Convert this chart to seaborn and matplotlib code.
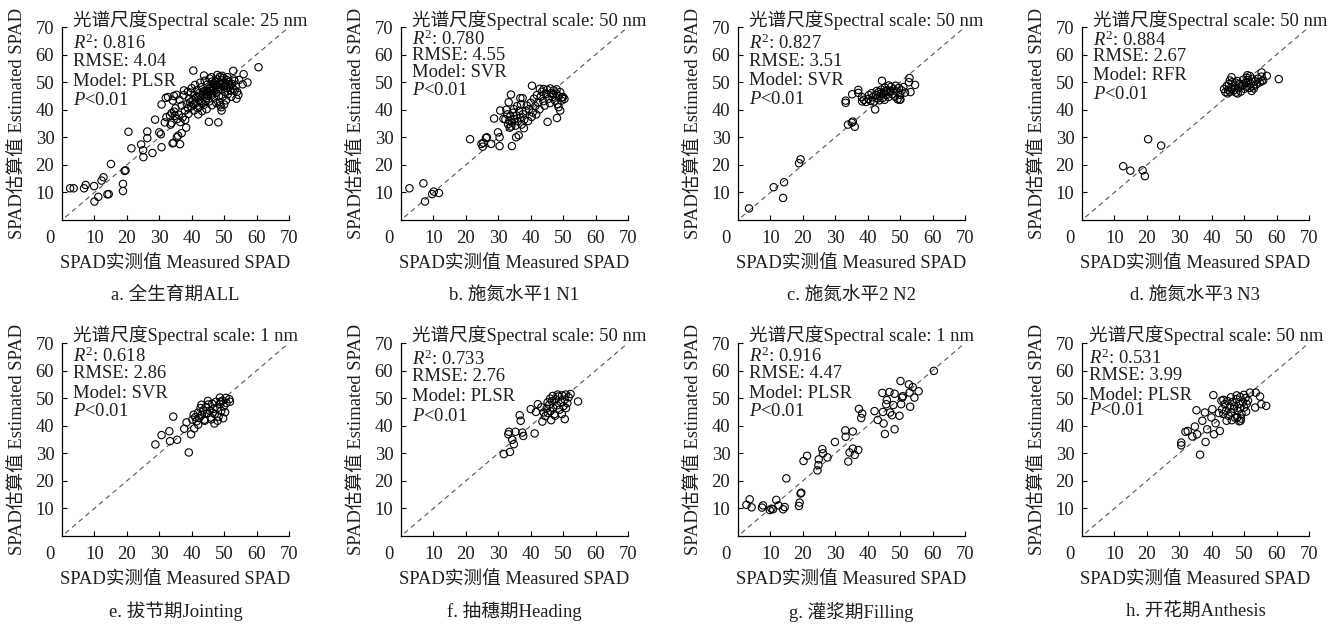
import matplotlib
matplotlib.use("Agg")
import matplotlib.pyplot as plt
import pandas as pd
import seaborn as sns

# (measured, estimated) pairs
pts_all = [
    (2.5, 11.5), (3.6, 11.5), (6.8, 11.5), (7.3, 12.7), (9.9, 12.3), (10, 6.7), (11.2, 8.4), (12.2, 14.3),
    (12.8, 15.5), (14, 9.3), (14.4, 9.4), (15.1, 20.3), (18.8, 13.1), (18.8, 10.5), (19.3, 17.8), (19.6, 18),
    (20.5, 32), (21.4, 26), (24.4, 27.4), (25, 25.3), (25.1, 22.8), (26.3, 32.1), (26.3, 29.7), (27.9, 24.3),
    (28.7, 36.4), (30, 31.8), (30.5, 31.1), (30.7, 41.9), (30.7, 26.4), (31.7, 35.4), (32.2, 37.3), (32, 44.3),
    (33.3, 37.9), (33.5, 34.6), (33.8, 35.2), (34.1, 27.8), (34.4, 28), (35.4, 30), (35.8, 30.6), (36.4, 27.5),
    (36.9, 31.5), (38.3, 33.5), (40.5, 54.2), (45.3, 35.6), (48.2, 35.4), (52.8, 54.1), (56, 52.9), (57.2, 49.9),
    (60.6, 55.4), (54.4, 45.4), (53.3, 47), (55.7, 49.2),
    (32.7, 44.6), (35.3, 45.4), (37.6, 47), (39.8, 46.2), (37.5, 45.3), (34.2, 43.3), (34.6, 39.3), (36.9, 41.5),
    (37.9, 39.7), (49.2, 39.7), (49.1, 40.9), (48.7, 42.7), (40.7, 39.7), (42.3, 41), (46.1, 51.8), (48.7, 52),
    (50.8, 50.8),
    (38.5, 42.1), (39.2, 44.0), (39.8, 41.2), (40.3, 43.5), (40.9, 45.2), (41.2, 42.3), (41.6, 47.1), (42.0, 44.4),
    (42.3, 46.0), (42.8, 43.1), (43.1, 48.2), (43.4, 45.5), (43.8, 41.8), (44.2, 47.0), (44.5, 44.2), (44.8, 49.1),
    (45.1, 46.3), (45.4, 43.0), (45.7, 48.0), (46.0, 45.1), (46.3, 50.2), (46.6, 47.4), (46.9, 44.3), (47.2, 49.0),
    (47.5, 46.1), (47.8, 51.0), (48.1, 48.2), (48.4, 45.0), (48.7, 49.8), (49.0, 47.3), (49.3, 50.6), (49.6, 44.8),
    (49.9, 48.5), (50.2, 46.5), (50.5, 49.6), (50.8, 47.8), (51.1, 45.6), (51.4, 50.1), (51.7, 48.3), (52.0, 46.9),
    (52.4, 49.4), (52.8, 47.6), (53.2, 50.4), (53.6, 48.6), (54.0, 46.5),
    (44.0, 45.6), (44.6, 46.8), (45.3, 47.6), (45.9, 46.8), (46.4, 48.5), (47.0, 47.9), (47.6, 48.9), (48.3, 47.0),
    (48.9, 48.9), (46.2, 45.9), (45.0, 45.0), (43.6, 46.6), (42.6, 45.2), (41.4, 44.6), (40.5, 41.9), (39.5, 42.7),
    (38.9, 40.5), (47.3, 50.3), (46.8, 49.5), (49.6, 49.2), (50.6, 48.9), (51.9, 49.0), (44.3, 43.2), (43.0, 42.5),
    (41.8, 40.6), (39.0, 38.5), (36.0, 38.2), (35.5, 36.6), (34.8, 37.8), (36.5, 35.5), (37.2, 37.2), (38.0, 36.3),
    (35.0, 40.5), (33.8, 38.8), (36.2, 43.6), (34.5, 45.0), (38.8, 46.5), (40.0, 47.8), (41.0, 49.0), (42.6, 49.8),
    (44.0, 50.5), (45.5, 51.3), (49.8, 51.5), (51.0, 51.8), (53.0, 51.0), (54.6, 50.8), (52.2, 44.7), (50.6, 43.4),
    (47.6, 42.4), (46.2, 41.6), (44.6, 40.2), (43.2, 39.5), (42.0, 38.3), (48.8, 41.6), (50.0, 41.9), (53.8, 44.0),
    (49.4, 52.3), (47.9, 52.6), (43.8, 52.4),
]

pts_n1 = [
    (2.6, 11.5), (6.9, 13.3), (7.4, 6.7), (9.6, 9.4), (10.1, 10.3), (11.7, 9.8), (21.3, 29.3), (24.8, 27.6),
    (25.2, 26.6), (25.4, 28), (26.2, 29.8), (26.5, 30), (27.8, 27.6), (28.7, 36.8), (29.9, 31.8), (30.4, 30),
    (30.4, 26.8), (30.6, 39.7), (31.6, 36.7), (33.2, 42.7), (33.9, 45.5), (34.2, 26.8), (36.8, 44.2), (37.5, 44.2),
    (35.5, 30), (36.3, 30.7), (37.9, 33.3), (40.4, 48.7), (45.2, 35.6), (46, 47.7), (48.1, 37), (49.1, 39.7),
    (48.6, 40.9), (50.4, 43.9), (49.6, 44.5),
    (32.2, 36.5), (32.8, 38.3), (33.0, 34.8), (33.4, 36.0), (33.7, 37.6), (34.0, 33.9), (34.3, 35.3), (34.6, 38.9),
    (35.0, 36.6), (35.3, 34.2), (35.6, 37.9), (36.0, 35.8), (36.4, 39.5), (36.8, 37.1), (37.2, 34.6), (37.6, 38.4),
    (38.0, 36.4), (33.5, 33.5), (34.8, 40.2), (35.8, 41.3), (32.5, 40.0), (37.0, 42.0), (38.5, 39.6), (39.2, 35.9),
    (39.5, 40.2), (40.0, 42.5), (40.6, 39.0), (41.0, 44.0), (41.4, 41.3), (41.9, 45.3), (42.3, 42.6), (42.7, 40.1),
    (43.1, 44.8), (43.5, 46.5), (43.9, 43.1), (44.3, 41.5), (44.7, 45.7), (45.1, 47.2), (45.5, 44.0), (45.9, 42.4),
    (46.3, 46.0), (46.7, 44.6), (47.1, 47.0), (47.5, 43.3), (47.9, 45.8), (48.3, 42.0), (48.7, 44.9), (49.1, 46.4),
    (49.5, 43.3), (50.0, 44.6), (40.3, 37.4), (41.7, 38.3), (44.0, 47.5), (46.9, 45.5), (48.0, 47.4), (42.8, 47.6),
    (38.8, 41.5),
]

pts_n2 = [
    (3.4, 4.2), (11, 11.9), (13.9, 8), (14.2, 13.7), (18.8, 20.6), (19.3, 22), (33.9, 34.6), (35.1, 35.3),
    (36, 33.8), (35.4, 35.7), (33.2, 42.5), (33.2, 43.3), (35.2, 45.6), (37.1, 47.2), (37.1, 46.1), (38.2, 44.6),
    (38.3, 43), (42.3, 40.1), (44.4, 50.5), (52.9, 51.5), (52.7, 50), (53.2, 46.4), (54.6, 49), (50.1, 43.7),
    (38.8, 43.6), (39.5, 42.8), (40.2, 43.9), (40.9, 43.2), (41.5, 44.5), (42.0, 43.0), (42.5, 45.3), (43.0, 44.1),
    (43.4, 46.4), (43.8, 45.0), (44.2, 47.3), (44.6, 44.3), (45.0, 46.0), (45.3, 48.0), (45.7, 45.3), (46.0, 47.0),
    (46.4, 44.6), (46.8, 46.3), (47.2, 48.3), (47.6, 45.6), (48.0, 47.4), (48.4, 44.8), (48.8, 46.6), (49.2, 43.8),
    (49.6, 47.9), (50.0, 45.4), (50.5, 47.0), (51.0, 48.2), (51.5, 46.2), (44.0, 45.8), (45.5, 46.8), (47.0, 46.9),
    (42.8, 46.8), (43.6, 43.4), (41.2, 46.0), (40.4, 45.3), (48.6, 48.7), (46.5, 48.8), (49.8, 43.6), (45.2, 43.6),
]

pts_n3 = [
    (12.7, 19.5), (14.9, 17.9), (18.7, 18), (19.4, 15.9), (20.4, 29.3), (24.4, 27), (60.7, 51.1), (57, 52.3),
    (55.4, 53.5), (55.4, 50.4), (46.1, 51.8), (51, 52.5),
    (43.8, 47.5), (44.2, 46.4), (44.6, 48.6), (45.0, 47.2), (45.3, 49.3), (45.7, 46.5), (46.0, 48.1), (46.4, 50.0),
    (46.8, 47.0), (47.1, 48.8), (47.5, 46.2), (47.9, 50.4), (48.2, 47.8), (48.6, 49.4), (49.0, 46.6), (49.3, 48.5),
    (49.7, 50.9), (50.1, 47.6), (50.5, 49.7), (50.9, 48.3), (51.3, 50.8), (51.7, 47.9), (52.1, 49.4), (52.5, 51.2),
    (52.9, 48.6), (53.3, 50.3), (53.8, 49.2), (54.3, 51.3), (54.8, 49.9), (55.4, 52.0), (52.3, 46.8), (48.0, 45.9),
    (46.2, 47.5), (44.9, 45.9), (47.3, 49.9), (49.6, 49.1), (50.8, 51.6), (53.0, 47.7), (55.9, 50.6), (51.8, 52.2),
    (45.6, 50.6),
]

pts_jointing = [
    (28.8, 33.2), (30.7, 36.6), (33.1, 38), (33.3, 34.4), (34.3, 43.3), (35.5, 34.9), (37.7, 38.9), (38.4, 41.2),
    (39.1, 30.3), (39.8, 36.9), (40.8, 39), (47, 40.8), (49.7, 42.7), (51.6, 49.6), (51.8, 48.7), (48.7, 50.2),
    (40.2, 42.2), (40.6, 44.0), (41.1, 43.1), (41.5, 41.6), (41.9, 44.7), (42.3, 42.8), (42.7, 46.4), (43.1, 43.9),
    (43.5, 45.5), (43.9, 42.2), (44.3, 46.8), (44.7, 44.4), (45.1, 47.7), (45.5, 45.4), (45.9, 43.0), (46.3, 48.0),
    (46.7, 46.1), (47.1, 44.2), (47.5, 48.7), (47.9, 46.4), (48.3, 43.3), (48.7, 47.9), (49.1, 45.4), (49.5, 49.1),
    (49.9, 47.0), (50.3, 44.9), (50.7, 48.2), (42.0, 40.4), (44.0, 41.8), (46.0, 42.3), (48.0, 41.8), (45.0, 49.0),
    (43.0, 47.6), (49.0, 48.7), (50.5, 50.1), (46.5, 44.7),
]

pts_heading = [
    (31.7, 29.7), (33.6, 30.5), (33.3, 37.8), (33.1, 36.9), (34.8, 33.3), (34.3, 34.9), (35.3, 37.8), (36.6, 43.8),
    (36.9, 41.8), (37.4, 37.5), (37.7, 36.3), (41.2, 37.2), (40, 46), (42.2, 47.8), (41.6, 45), (43.6, 41.5),
    (46.3, 42), (50.5, 42.4), (54.6, 48.8), (52.3, 51.5),
    (44.0, 44.8), (44.5, 43.5), (44.9, 46.2), (45.3, 44.6), (45.7, 47.6), (46.1, 45.3), (46.5, 48.9), (46.9, 46.5),
    (47.3, 44.2), (47.7, 49.6), (48.1, 47.4), (48.5, 50.6), (48.9, 45.8), (49.3, 48.6), (49.7, 51.0), (50.1, 47.1),
    (50.5, 49.5), (50.9, 46.4), (51.3, 48.2), (51.7, 50.3), (46.0, 49.8), (47.5, 43.6), (48.3, 51.3), (45.2, 48.5),
    (49.6, 44.2), (46.8, 50.8), (50.8, 51.3), (43.3, 46.7),
]

pts_filling = [
    (2.6, 11.3), (3.6, 13.3), (4.2, 10.4), (7.4, 10.3), (7.7, 11.1), (9.8, 9.4), (10.3, 9.9), (10.8, 9.7),
    (11.8, 13.1), (12.5, 11.1), (13.9, 9.7), (14.4, 10.5), (14.9, 20.9), (18.8, 10.9), (19, 12.1), (19.3, 15.4),
    (19.5, 15.7), (20.2, 27.2), (21.3, 29.1), (24.5, 23.8), (24.8, 25.7), (24.9, 27.8), (26, 31.5), (26.2, 30),
    (27.6, 28.5), (29.9, 34.1), (33.1, 38.3), (33.2, 36), (34, 27), (34.4, 30.3), (35.4, 37.9), (35.4, 31.7),
    (36, 29.4), (37.1, 31.2), (37.3, 46.1), (38, 42.8), (38.3, 44.4), (42.1, 45.3), (43.1, 42.1), (44.7, 45),
    (44.5, 51.9), (44.9, 40.8), (45.3, 37), (45.9, 49.3), (45.7, 47.8), (46.7, 52.2), (46.9, 44.8), (47.5, 43.8),
    (48.3, 38.7), (47.9, 47.5), (48.3, 51.6), (49.8, 43.6), (50.1, 56.2), (50.6, 50.2), (50.8, 50.7), (50.3, 47.8),
    (52.7, 55), (53.1, 46.9), (53.9, 54), (54.4, 50.2), (55.7, 52.5), (52.9, 52), (60.4, 59.9),
]

pts_anthesis = [
    (30.6, 33.9), (30.6, 32.9), (31.9, 37.8), (32.6, 38.1), (34, 36.1), (34.8, 39.7), (35.3, 45.6), (35.5, 36.9),
    (36.4, 29.5), (37.1, 41.8), (37.9, 44.8), (38.1, 34.1), (38.6, 38.7), (39.9, 43), (40.2, 46), (40.5, 51.1),
    (40.7, 36.9), (41.2, 40.9), (42.2, 44.6), (42.5, 38.1), (43.6, 49.4), (51.8, 52), (53.6, 52), (53.4, 46.6),
    (54.9, 50.6), (55.3, 47.8), (56.8, 47.2), (48.9, 41.8), (47.9, 43),
    (43.2, 46.0), (43.6, 44.3), (44.0, 47.8), (44.4, 45.4), (44.8, 49.0), (45.2, 43.6), (45.6, 47.0), (46.0, 44.8),
    (46.4, 48.6), (46.8, 46.1), (47.2, 42.9), (47.6, 49.6), (48.0, 45.5), (48.4, 47.8), (48.8, 50.4), (49.2, 44.3),
    (49.6, 48.6), (50.0, 46.6), (50.4, 50.0), (50.8, 47.9), (51.2, 49.1), (48.5, 41.6), (49.0, 42.6), (46.2, 42.0),
    (44.6, 41.8), (47.7, 51.0), (49.9, 51.2), (45.9, 50.3), (43.0, 49.1), (47.0, 47.0), (48.7, 46.3), (50.6, 45.1),
]

captions = ["a. 全生育期ALL", "b. 施氮水平1 N1", "c. 施氮水平2 N2", "d. 施氮水平3 N3",
            "e. 拔节期Jointing", "f. 抽穗期Heading", "g. 灌浆期Filling", "h. 开花期Anthesis"]
scales = [25, 50, 50, 50, 1, 50, 1, 50]
r2_values = ["0.816", "0.780", "0.827", "0.884", "0.618", "0.733", "0.916", "0.531"]
rmse_values = ["4.04", "4.55", "3.51", "2.67", "2.86", "2.76", "4.47", "3.99"]
models = ["PLSR", "SVR", "SVR", "RFR", "SVR", "PLSR", "PLSR", "PLSR"]
panels = [pts_all, pts_n1, pts_n2, pts_n3, pts_jointing, pts_heading, pts_filling, pts_anthesis]

ticks = [10, 20, 30, 40, 50, 60, 70]

# layout in pixels: axes left edges, row tops, sizes
W, H = 1338, 624
lefts = [62, 401, 738, 1082]
tops = [27, 343]
ax_w, ax_h = 227, 193
# y (data units) of the five annotation lines for each panel
text_rows = [
    [72.4, 64.2, 57.6, 50.4, 43.4],
    [72.4, 65.6, 59.8, 53.4, 46.8],
    [72.4, 64.2, 57.6, 50.6, 43.8],
    [72.4, 65.2, 59.4, 52.4, 45.6],
    [72.9, 65.0, 58.8, 51.8, 45.2],
    [72.9, 64.2, 58.0, 50.6, 43.3],
    [72.9, 65.0, 58.8, 51.8, 45.2],
    [72.9, 64.4, 58.2, 51.0, 45.6],
]
text_x = [3.5, 3.5, 3.5, 3.5, 3.5, 3.5, 3.5, 2.2]

sns.set_theme(style="ticks")
plt.rcParams["font.family"] = ["Liberation Serif", "Noto Sans CJK SC"]
plt.rcParams["mathtext.fontset"] = "custom"
plt.rcParams["mathtext.rm"] = "Liberation Serif"
plt.rcParams["mathtext.it"] = "Liberation Serif:italic"

FS = 13.4
INK = "#1e1e1e"
fig = plt.figure(figsize=(W / 100, H / 100), dpi=100)

for i, pts in enumerate(panels):
    row, col = divmod(i, 4)
    left = lefts[col] / W
    bottom = (H - tops[row] - ax_h) / H
    ax = fig.add_axes([left, bottom, ax_w / W, ax_h / H])

    df = pd.DataFrame(pts, columns=["measured", "estimated"])
    ax.plot([1, 70], [1, 70], color="#555555", lw=0.8, dashes=(4.5, 3.5), zorder=1)
    sns.scatterplot(data=df, x="measured", y="estimated", ax=ax, s=28,
                    facecolor="none", edgecolor="black", linewidth=0.8, zorder=2)

    ax.set_xlim(0, 70)
    ax.set_ylim(0, 70)
    ax.set_xticks(ticks)
    ax.set_yticks(ticks)
    sns.despine(ax=ax)
    for sp in ["left", "bottom"]:
        ax.spines[sp].set_linewidth(0.9)
        ax.spines[sp].set_color("black")
    ax.tick_params(axis="both", direction="in", length=3.5, width=0.8, colors="black",
                   labelsize=FS, labelcolor=INK)
    ax.tick_params(axis="x", pad=7.5)
    ax.tick_params(axis="y", pad=5.5)

    ax.set_xlabel("SPAD实测值 Measured SPAD", fontsize=FS, color=INK)
    ax.set_ylabel("SPAD估算值 Estimated SPAD", fontsize=FS, color=INK)
    ax.xaxis.set_label_coords(0.5, -0.228)
    ax.xaxis.label.set_va("center")
    ax.yaxis.set_label_coords(-0.195, 0.5)
    ax.yaxis.label.set_va("center")

    ax.text(-0.055, -0.094, "0", transform=ax.transAxes, ha="center", va="center",
            fontsize=FS, color=INK)
    ax.text(0.5, -0.392, captions[i], transform=ax.transAxes, ha="center", va="center",
            fontsize=FS, color=INK)

    lines = [f"光谱尺度Spectral scale: {scales[i]} nm", rf"$R^2$: {r2_values[i]}",
             f"RMSE: {rmse_values[i]}", f"Model: {models[i]}", r"$P$<0.01"]
    for txt, yy in zip(lines, text_rows[i]):
        ax.text(text_x[i], yy, txt, ha="left", va="center", fontsize=FS, color=INK)

fig.savefig("out.png", dpi=100)
